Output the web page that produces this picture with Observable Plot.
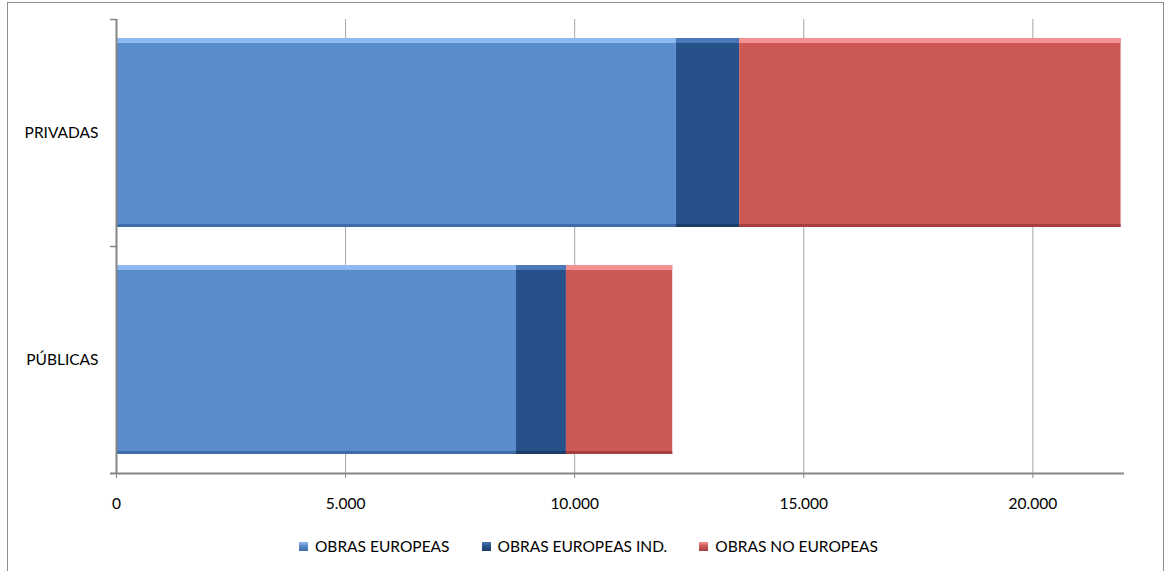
<!DOCTYPE html>
<html>
<head>
<meta charset="utf-8">
<script src="https://cdn.jsdelivr.net/npm/d3@7"></script>
<script src="https://cdn.jsdelivr.net/npm/@observablehq/plot@0.6"></script>
<style>
  html, body { margin: 0; padding: 0; background: #fff; overflow: hidden; }
  #wrap { position: relative; width: 1167px; height: 571px; font-family: Lato, "Open Sans", sans-serif; }
  #border { position: absolute; left: 7px; top: 2px; width: 1157px; height: 620px; border: 1px solid #8c8c8c; box-sizing: border-box; }
  #chart { position: absolute; left: 0; top: 0; }
  #legend { position: absolute; left: 10px; width: 1157px; top: 537px; display: flex; justify-content: center; gap: 32px; font-size: 15.5px; color: #000; }
  .item { display: flex; align-items: center; white-space: nowrap; }
  .sw { width: 9px; height: 9px; margin-right: 7px; }
</style>
</head>
<body>
<div id="wrap">
  <div id="border"></div>
  <div id="chart"></div>
  <div id="legend"></div>
</div>
<script>
const categories = ["PRIVADAS", "PÚBLICAS"];
const series = ["OBRAS EUROPEAS", "OBRAS EUROPEAS IND.", "OBRAS NO EUROPEAS"];
const obrasEuropeas = [12220, 8730];
const obrasEuropeasInd = [1380, 1090];
const obrasNoEuropeas = [8325, 2320];
const xTicks = [0, 5000, 10000, 15000, 20000];
const xMax = 22000;
const colors = ["#5A8BCB", "#26518A", "#CD5956"];
const lightColors = ["#8DBAF0", "#4B78B6", "#F29391"];
const darkColors = ["#3F6CA6", "#1B3D6A", "#A6403E"];

const valuesBySeries = [obrasEuropeas, obrasEuropeasInd, obrasNoEuropeas];
const table = [];
categories.forEach((cat, ci) => {
  let acc = 0;
  series.forEach((s, si) => {
    const v = valuesBySeries[si][ci];
    table.push({cat, series: s, si, value: v, x1: acc, x2: acc + v});
    acc += v;
  });
});

const fmt = d3.formatLocale({decimal: ",", thousands: ".", grouping: [3], currency: ["", "€"]}).format(",");

const halfStep = 227 / 2;
const axisColor = "#868686";

const marks = [
  Plot.gridX(xTicks.filter(d => d > 0), {stroke: "#a6a6a6", strokeOpacity: 1, strokeWidth: 1}),
  Plot.barX(table, {x1: "x1", x2: "x2", y: "cat", fill: "series"}),
];
series.forEach((s, si) => {
  const rows = table.filter(d => d.si === si);
  marks.push(Plot.barX(rows, {x1: "x1", x2: "x2", y: "cat", fill: lightColors[si], insetBottom: 184}));
  marks.push(Plot.barX(rows, {x1: "x1", x2: "x2", y: "cat", fill: darkColors[si], insetTop: 186}));
});
marks.push(
  Plot.ruleX(table, {x: "x2", y: "cat", stroke: "#000", strokeOpacity: 0.22, strokeWidth: 2, dx: -1}),
  Plot.ruleX([0], {stroke: axisColor, strokeWidth: 2}),
  Plot.ruleY([categories[0]], {y: d => d, x1: 0, x2: 0, insetLeft: -6, dy: -halfStep, stroke: axisColor, strokeWidth: 1.5}),
  Plot.ruleY([categories[1]], {y: d => d, x1: 0, x2: 0, insetLeft: -6, dy: -halfStep, stroke: axisColor, strokeWidth: 1.5}),
  Plot.ruleY([categories[1]], {y: d => d, x1: 0, x2: xMax, insetLeft: -6, dy: halfStep, stroke: axisColor, strokeWidth: 2}),
  Plot.axisX({ticks: xTicks, tickSize: 5, tickPadding: 19, tickFormat: fmt, stroke: axisColor, fill: "#000", label: null}),
  Plot.axisY({tickSize: 0, tickPadding: 18, fill: "#000", label: null})
);

const plot = Plot.plot({
  width: 1167,
  height: 520,
  marginLeft: 116,
  marginRight: 43,
  marginTop: 19,
  marginBottom: 47,
  style: {fontFamily: "Lato, 'Open Sans', sans-serif", fontSize: "15.5px", color: "#000", background: "transparent", overflow: "visible"},
  x: {domain: [0, xMax], axis: null},
  y: {domain: categories, paddingInner: 1 / 6, paddingOuter: 1 / 12, axis: null},
  color: {domain: series, range: colors},
  marks
});
document.getElementById("chart").appendChild(plot);

const legend = document.getElementById("legend");
series.forEach((s, i) => {
  const item = document.createElement("div");
  item.className = "item";
  const sw = document.createElement("div");
  sw.className = "sw";
  sw.style.background = `linear-gradient(${lightColors[i]}, ${colors[i]} 45%, ${darkColors[i]})`;
  const label = document.createElement("span");
  label.textContent = s;
  item.appendChild(sw);
  item.appendChild(label);
  legend.appendChild(item);
});
</script>
</body>
</html>
